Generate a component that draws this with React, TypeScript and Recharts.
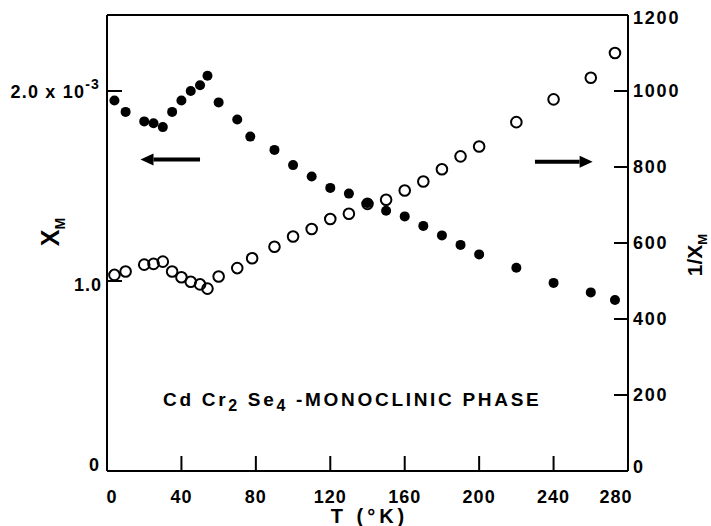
import React from 'react';
import { ScatterChart, Scatter, XAxis, YAxis, ReferenceLine } from 'recharts';

// Susceptibility chi_M (units of 1e-3), filled circles, left axis
const chiT = [4, 10, 20, 25, 30, 35, 40, 45, 50, 54, 60, 70, 77, 90, 100, 110, 120, 130, 140, 150, 160, 170, 180, 190, 200, 220, 240, 260, 273];
const chiV = [1.95, 1.89, 1.84, 1.83, 1.81, 1.89, 1.95, 2.0, 2.03, 2.08, 1.94, 1.85, 1.76, 1.69, 1.61, 1.55, 1.49, 1.46, 1.41, 1.37, 1.34, 1.29, 1.24, 1.19, 1.14, 1.07, 0.99, 0.94, 0.9];
// Inverse susceptibility 1/chi_M, open circles, right axis
const invT = [4, 10, 20, 25, 30, 35, 40, 45, 50, 54, 60, 70, 78, 90, 100, 110, 120, 130, 140, 150, 160, 170, 180, 190, 200, 220, 240, 260, 273];
const invV = [516, 525, 543, 545, 551, 525, 510, 498, 491, 480, 512, 534, 560, 590, 617, 637, 663, 677, 703, 714, 738, 762, 794, 828, 854, 918, 978, 1035, 1100];

const xTicks = [0, 40, 80, 120, 160, 200, 240, 280];
const leftTicks = [0, 1, 2];
const rightTicks = [0, 200, 400, 600, 800, 1000, 1200];

const chiData = chiT.map((t, i) => ({ t, chi: chiV[i] }));
const invData = invT.map((t, i) => ({ t, inv: invV[i] }));

const FONT = '"Liberation Sans", Arial, sans-serif';
const INK = '#000';

const XTick = (props: any) => {
  const { x, y, payload } = props;
  const v = payload.value;
  const edge = v === 0 || v === 280;
  const dx = v === 0 ? 5 : v === 280 ? -12 : 0;
  return (
    <g>
      {!edge && <line x1={x} y1={y} x2={x} y2={y - 15} stroke={INK} strokeWidth={2} />}
      <text x={x + dx} y={y + 26} dy="0.35em" textAnchor="middle" fontFamily={FONT} fontWeight="bold" fontSize={18} fill={INK} letterSpacing={1}>
        {v}
      </text>
    </g>
  );
};

const LeftTick = (props: any) => {
  const { x, y, payload } = props;
  const v = payload.value;
  if (v === 0) {
    return (
      <text x={x - 8} y={y - 6} dy="0.35em" textAnchor="end" fontFamily={FONT} fontWeight="bold" fontSize={18} fill={INK}>0</text>
    );
  }
  return (
    <g>
      <line x1={x} y1={y} x2={x + 15} y2={y} stroke={INK} strokeWidth={2} />
      {v === 2 ? (
        <text x={x - 7} y={y + 1} dy="0.35em" textAnchor="end" fontFamily={FONT} fontWeight="bold" fontSize={18} fill={INK} letterSpacing={1.2}>
          2.0 x 10<tspan dy={-9} fontSize={14}>-3</tspan>
        </text>
      ) : (
        <text x={x - 5} y={y + 4} dy="0.35em" textAnchor="end" fontFamily={FONT} fontWeight="bold" fontSize={18} fill={INK} letterSpacing={1}>
          1.0
        </text>
      )}
    </g>
  );
};

const RightTick = (props: any) => {
  const { x, y, payload } = props;
  const v = payload.value;
  const edge = v === 0 || v === 1200;
  return (
    <g>
      {!edge && <line x1={x} y1={y} x2={x - 14} y2={y} stroke={INK} strokeWidth={2} />}
      <text x={x + 5} y={v === 0 ? y - 4 : v === 1200 ? y + 3 : y} dy="0.35em" textAnchor="start" fontFamily={FONT} fontWeight="bold" fontSize={18} fill={INK} letterSpacing={1.8}>
        {v}
      </text>
    </g>
  );
};

const Filled = (props: any) => <circle cx={props.cx} cy={props.cy} r={5} fill={INK} />;
const Open = (props: any) => <circle cx={props.cx} cy={props.cy} r={5.3} fill="none" stroke={INK} strokeWidth={2} />;

const Arrow = (props: any) => {
  const { x1, y1, x2, y2 } = props;
  const dir = x2 > x1 ? 1 : -1;
  const head = 13;
  const hw = 6;
  return (
    <g>
      <line x1={x1} y1={y1} x2={x2 - dir * head} y2={y2} stroke={INK} strokeWidth={4} />
      <polygon points={`${x2},${y2} ${x2 - dir * head},${y2 - hw} ${x2 - dir * head},${y2 + hw}`} fill={INK} />
    </g>
  );
};

export default function App() {
  return (
    <div style={{ position: 'absolute', left: 0, top: 0, width: 711, height: 526, background: '#fff' }}>
      <ScatterChart width={711} height={526} margin={{ top: 15, right: 0, bottom: 0, left: 0 }}>
        <XAxis
          type="number"
          dataKey="t"
          domain={[0, 280]}
          ticks={xTicks}
          interval={0}
          height={55}
          axisLine={{ stroke: INK, strokeWidth: 2 }}
          tickLine={false}
          tickSize={0}
          tickMargin={0}
          tick={(p: any) => <XTick {...p} />}
          label={{
            content: (p: any) => {
              const vb = p.viewBox;
              return (
                <text x={vb.x + vb.width / 2 + 2} y={vb.y + 52} textAnchor="middle" fontFamily={FONT} fontWeight="bold" fontSize={20} letterSpacing={4} fill={INK}>
                  T (°K)
                </text>
              );
            },
          }}
        />
        <YAxis
          yAxisId="chi"
          orientation="left"
          type="number"
          dataKey="chi"
          domain={[0, 2.4]}
          ticks={leftTicks}
          interval={0}
          width={107}
          axisLine={{ stroke: INK, strokeWidth: 2 }}
          tickLine={false}
          tickSize={0}
          tickMargin={0}
          tick={(p: any) => <LeftTick {...p} />}
          label={{
            content: (p: any) => {
              const vb = p.viewBox;
              const cx = 50;
              const cy = vb.y + vb.height / 2 - 11;
              return (
                <text x={cx} y={cy} transform={`rotate(-90, ${cx}, ${cy})`} textAnchor="middle" dy="0.35em" fontFamily={FONT} fontWeight="bold" fontSize={25} fill={INK}>
                  X<tspan dy={6} fontSize={14}>M</tspan>
                </text>
              );
            },
          }}
        />
        <YAxis
          yAxisId="inv"
          orientation="right"
          type="number"
          dataKey="inv"
          domain={[0, 1200]}
          ticks={rightTicks}
          interval={0}
          width={83}
          axisLine={{ stroke: INK, strokeWidth: 2 }}
          tickLine={false}
          tickSize={0}
          tickMargin={0}
          tick={(p: any) => <RightTick {...p} />}
          label={{
            content: (p: any) => {
              const vb = p.viewBox;
              const cx = 695;
              const cy = vb.y + vb.height / 2 + 12;
              return (
                <text x={cx} y={cy} transform={`rotate(-90, ${cx}, ${cy})`} textAnchor="middle" dy="0.35em" fontFamily={FONT} fontWeight="bold" fontSize={21} fill={INK}>
                  1/X<tspan dy={5} fontSize={13}>M</tspan>
                </text>
              );
            },
          }}
        />
        <ReferenceLine yAxisId="chi" y={2.4} stroke={INK} strokeWidth={2} />
        <ReferenceLine
          yAxisId="chi"
          segment={[{ x: 50, y: 1.64 }, { x: 18, y: 1.64 }]}
          shape={(p: any) => <Arrow {...p} />}
        />
        <ReferenceLine
          yAxisId="chi"
          segment={[{ x: 230, y: 1.628 }, { x: 261, y: 1.628 }]}
          shape={(p: any) => <Arrow {...p} />}
        />
        <Scatter yAxisId="inv" data={invData} dataKey="inv" shape={(p: any) => <Open {...p} />} isAnimationActive={false} />
        <Scatter yAxisId="chi" data={chiData} dataKey="chi" shape={(p: any) => <Filled {...p} />} isAnimationActive={false} />
      </ScatterChart>
      <svg width={711} height={526} style={{ position: 'absolute', left: 0, top: 0, pointerEvents: 'none' }}>
        <text x={163} y={406} fontFamily={FONT} fontWeight="bold" fontSize={19} letterSpacing={2.7} fill={INK}>
          Cd Cr<tspan dy={5} fontSize={16}>2</tspan>
          <tspan dy={-5}> Se</tspan>
          <tspan dy={5} fontSize={16}>4</tspan>
          <tspan dy={-5}> -MONOCLINIC PHASE</tspan>
        </text>
      </svg>
    </div>
  );
}
